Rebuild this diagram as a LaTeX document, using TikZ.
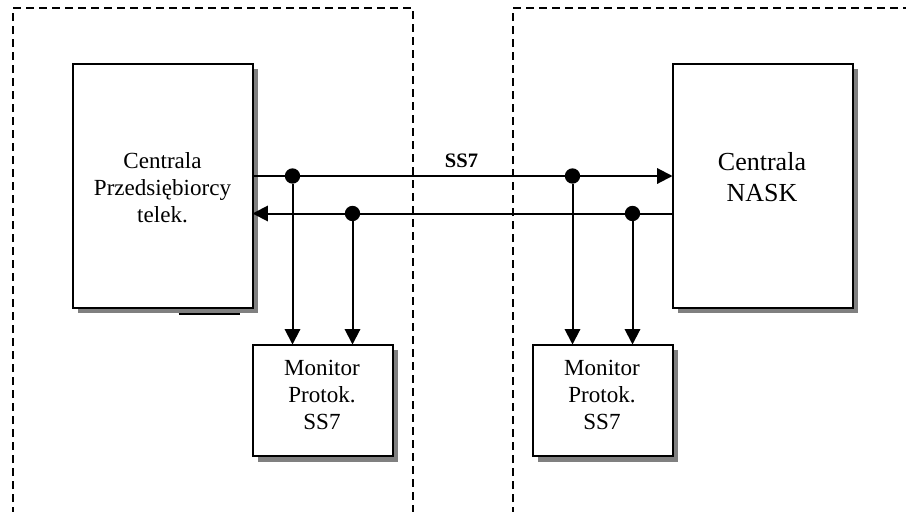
\documentclass[tikz,border=0pt]{standalone}
\usepackage{fontspec}
\setmainfont{Liberation Serif}
\usetikzlibrary{arrows.meta,calc}
\tikzset{
  x=0.75pt,y=-0.75pt,
  boxshape/.style={draw=black,fill=white,line width=1.5pt,rectangle,inner sep=0pt,outer sep=0pt,
    minimum width=#1*0.75pt},
  bigbox/.style={boxshape=180,minimum height=244.5*0.75pt},
  monbox/.style={boxshape=140,minimum height=111.5*0.75pt},
  textlabel/.style={align=center,inner sep=0pt,font=\fontsize{17.3pt}{20.3pt}\selectfont},
  biglabel/.style={align=center,inner sep=0pt,font=\fontsize{19.5pt}{23.5pt}\selectfont},
  zone/.style={dash pattern=on 6pt off 3.75pt,line width=1.5pt,draw=black},
  link/.style={line width=1.5pt,draw=black},
  flow/.style={link,-{Triangle[length=11.5pt,width=11.5pt]}},
  joint/.style={circle,fill=black,draw=none,minimum size=11.5pt,inner sep=0pt,outer sep=0pt},
}
\definecolor{shadegray}{HTML}{808080}
\begin{document}
\begin{tikzpicture}
\useasboundingbox (0,0) rectangle (906,511);
\fill[white] (0,0) rectangle (906,511);
% zones
\coordinate (zaBL) at (13,515);
\coordinate (zaTL) at (13,8);
\coordinate (zaTR) at (413,8);
\coordinate (zaBR) at (413,515);
\coordinate (zbBL) at (513,515);
\coordinate (zbTL) at (513,8);
\coordinate (zbTR) at (910,8);
\begin{scope}
\clip (0,0) rectangle (906,511);
\draw[zone] (zaBL) -- (zaTL) -- (zaTR) -- (zaBR);
\draw[zone] (zbBL) -- (zbTL) -- (zbTR);
\end{scope}
% shadows
\fill[shadegray] (77.5,68.5) rectangle (257.5,313);
\fill[shadegray] (677.5,68.5) rectangle (857.5,313);
\fill[shadegray] (257.5,349.5) rectangle (397.5,461.5);
\fill[shadegray] (537.5,349.5) rectangle (677.5,461.5);
\draw[line width=1.5pt] (178.5,313.5) -- (240,313.5);
% boxes
\node[bigbox] (cp) at (162.5,185.75) {};
\node[bigbox] (cn) at (762.5,185.75) {};
\node[monbox] (m1) at (322.5,400.25) {};
\node[monbox] (m2) at (602.5,400.25) {};
% texts
\node[textlabel] (cpt) at (162.5,187.5) {Centrala\\Przedsiębiorcy\\telek.};
\node[biglabel] (cnt) at (762,177) {Centrala\\NASK};
\node[textlabel] (m1t) at (322,395) {Monitor\\Protok.\\SS7};
\node[textlabel] (m2t) at (602,395) {Monitor\\Protok.\\SS7};
\node[inner sep=0pt,font=\bfseries\fontsize{15.4pt}{18pt}\selectfont] (ss7) at (461.5,160.5) {SS7};
% junctions
\node[joint] (j1) at (292.5,176) {};
\node[joint] (j2) at (352.5,213.5) {};
\node[joint] (j3) at (572.5,176) {};
\node[joint] (j4) at (632.5,213.5) {};
% connectors
\draw[flow] (cp.east |- j1) -- (cn.west |- j1);
\draw[flow] (cn.west |- j2) -- (cp.east |- j2);
\draw[flow] (j1) -- (j1 |- m1.north);
\draw[flow] (j2) -- (j2 |- m1.north);
\draw[flow] (j3) -- (j3 |- m2.north);
\draw[flow] (j4) -- (j4 |- m2.north);
\end{tikzpicture}
\end{document}
